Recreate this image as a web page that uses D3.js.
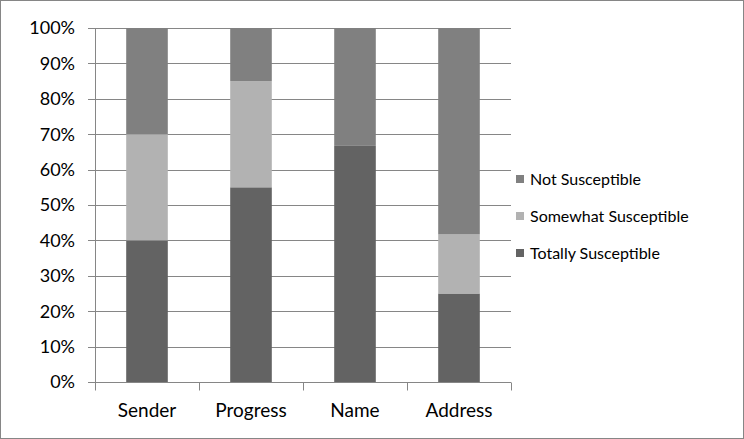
<!DOCTYPE html>
<html>
<head>
<meta charset="utf-8">
<script src="https://cdn.jsdelivr.net/npm/d3@7"></script>
<style>
  body { margin: 0; background: #fff; }
  svg text { font-family: Lato, "Open Sans", sans-serif; fill: #000; }
</style>
</head>
<body>
<svg id="chart" width="744" height="439"></svg>
<script>
const categories = ['Sender', 'Progress', 'Name', 'Address']
const seriesNames = ['Totally Susceptible', 'Somewhat Susceptible', 'Not Susceptible']
const totally = [40, 55, 66.7, 25]
const somewhat = [30, 30, 0, 16.7]
const notSusc = [30, 15, 33.3, 58.3]
const yTicks = [0, 10, 20, 30, 40, 50, 60, 70, 80, 90, 100]

const colors = { 'Totally Susceptible': '#636363', 'Somewhat Susceptible': '#b2b2b2', 'Not Susceptible': '#808080' }

const margin = { top: 28, left: 95, right: 233, bottom: 57 }
const W = 744, H = 439

const svg = d3.select('#chart')

// outer frame
svg.append('rect')
  .attr('x', 0.5).attr('y', 0.5)
  .attr('width', W - 1).attr('height', H - 1)
  .attr('fill', '#fff').attr('stroke', '#868686')

const x = d3.scaleBand().domain(categories).range([margin.left, W - margin.right]).paddingInner(0.6).paddingOuter(0.3)
const xb = d3.scaleBand().domain(categories).range([margin.left, W - margin.right])
const y = d3.scaleLinear().domain([0, 100]).range([H - margin.bottom, margin.top])

// gridlines
svg.append('g').selectAll('line').data(yTicks).join('line')
  .attr('x1', margin.left - 7).attr('x2', W - margin.right)
  .attr('y1', d => Math.round(y(d)) + 0.5).attr('y2', d => Math.round(y(d)) + 0.5)
  .attr('stroke', '#868686').attr('stroke-width', 1)

// y labels
svg.append('g').selectAll('text').data(yTicks).join('text')
  .attr('x', margin.left - 20).attr('y', d => y(d))
  .attr('dy', '0.35em').attr('text-anchor', 'end')
  .style('font-size', '18px')
  .text(d => d + '%')

// stacked data
const table = categories.map((c, i) => ({
  cat: c,
  'Totally Susceptible': totally[i],
  'Somewhat Susceptible': somewhat[i],
  'Not Susceptible': notSusc[i]
}))
const stacked = d3.stack().keys(seriesNames)(table)

svg.append('g').selectAll('g').data(stacked).join('g')
  .attr('fill', s => colors[s.key])
  .selectAll('rect').data(s => s).join('rect')
  .attr('x', d => x(d.data.cat))
  .attr('width', x.bandwidth())
  .attr('y', d => y(d[1]))
  .attr('height', d => y(d[0]) - y(d[1]))

// axes lines
const base = Math.round(y(0)) + 0.5
svg.append('line')
  .attr('x1', margin.left + 0.5).attr('x2', margin.left + 0.5)
  .attr('y1', y(100)).attr('y2', base)
  .attr('stroke', '#868686')
svg.append('line')
  .attr('x1', margin.left).attr('x2', W - margin.right)
  .attr('y1', base).attr('y2', base)
  .attr('stroke', '#868686')

// category ticks
const bounds = categories.map(c => xb(c)).concat([W - margin.right])
svg.append('g').selectAll('line').data(bounds).join('line')
  .attr('x1', d => Math.round(d) + 0.5).attr('x2', d => Math.round(d) + 0.5)
  .attr('y1', base).attr('y2', base + 8)
  .attr('stroke', '#868686')

svg.append('g').selectAll('text').data(categories).join('text')
  .attr('x', d => xb(d) + xb.bandwidth() / 2)
  .attr('y', 410).attr('dy', '0.35em')
  .attr('text-anchor', 'middle')
  .style('font-size', '19px')
  .text(d => d)

// legend
const legendOrder = ['Not Susceptible', 'Somewhat Susceptible', 'Totally Susceptible']
const lg = svg.append('g').selectAll('g').data(legendOrder).join('g')
  .attr('transform', (d, i) => 'translate(516,' + (179 + i * 37) + ')')
lg.append('rect')
  .attr('x', 0).attr('y', -4).attr('width', 8).attr('height', 8)
  .attr('fill', d => colors[d])
lg.append('text')
  .attr('x', 14).attr('dy', '0.35em')
  .style('font-size', '16px')
  .text(d => d)
</script>
</body>
</html>
